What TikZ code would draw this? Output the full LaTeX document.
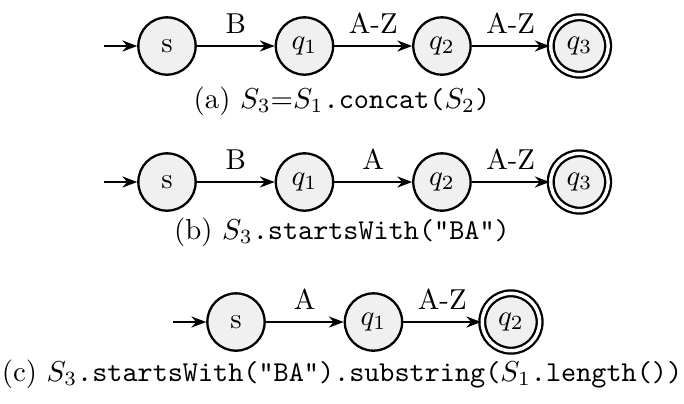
\documentclass[tikz,border=0pt]{standalone}
\usepackage{amsmath}
\usepackage{tikz}
\usetikzlibrary{positioning,arrows.meta}
\tikzset{
  stare/.style    = {draw, circle, thick, fill=black!6, minimum size=7mm, inner sep=0pt},
  finala/.style   = {stare, double, double distance=1.2pt},
  sageata/.style  = {-{Stealth[length=1.8mm]}, thick},
  eticheta/.style = {above=3pt, inner sep=1pt},
  legenda/.style  = {inner sep=0pt}
}

\begin{document}
\begin{tikzpicture}[x=0.0122cm, y=-0.0122cm, node distance=5mm and 9.5mm]
        \useasboundingbox (0,0) rectangle (684,403);

        % (a) concat
        \node[stare] (sa) at (167,46) {s};
        \node[stare, right=of sa] (qa1) {$q_1$};
        \node[stare, right=of qa1] (qa2) {$q_2$};
        \node[finala, right=of qa2] (qa3) {$q_3$};
        \coordinate[left=4mm of sa] (ina);
        \draw[sageata] (ina) -- (sa);
        \draw[sageata] (sa) -- node[eticheta] {B} (qa1);
        \draw[sageata] (qa1) -- node[eticheta] {A-Z} (qa2);
        \draw[sageata] (qa2) -- node[eticheta] {A-Z} (qa3);
        \node[legenda] (capa) at (342,101) {(a) $S_3$=$S_1$\texttt{.concat(}$S_2$\texttt{)}};

        % (b) startsWith
        \node[stare] (sb) at (167,182) {s};
        \node[stare, right=of sb] (qb1) {$q_1$};
        \node[stare, right=of qb1] (qb2) {$q_2$};
        \node[finala, right=of qb2] (qb3) {$q_3$};
        \coordinate[left=4mm of sb] (inb);
        \draw[sageata] (inb) -- (sb);
        \draw[sageata] (sb) -- node[eticheta] {B} (qb1);
        \draw[sageata] (qb1) -- node[eticheta] {A} (qb2);
        \draw[sageata] (qb2) -- node[eticheta] {A-Z} (qb3);
        \node[legenda] (capb) at (342,232) {(b) $S_3$\texttt{.startsWith("BA")}};

        % (c) substring
        \node[stare] (sc) at (236,322) {s};
        \node[stare, right=of sc] (qc1) {$q_1$};
        \node[finala, right=of qc1] (qc2) {$q_2$};
        \coordinate[left=4mm of sc] (inc);
        \draw[sageata] (inc) -- (sc);
        \draw[sageata] (sc) -- node[eticheta] {A} (qc1);
        \draw[sageata] (qc1) -- node[eticheta] {A-Z} (qc2);
        \node[legenda] (capc) at (342,374) {(c) $S_3$\texttt{.startsWith("BA").substring(}$S_1$\texttt{.length())}};
    \end{tikzpicture}
\end{document}
